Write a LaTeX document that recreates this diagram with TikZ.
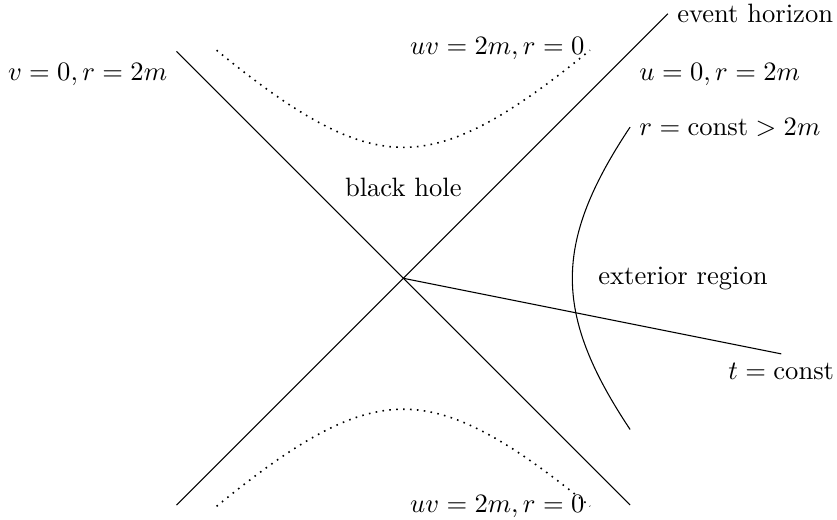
\documentclass[tikz,border=0pt]{standalone}
\begin{document}
\begin{tikzpicture}[
  axisline/.style={thin},
  horizonline/.style={thin},
  singularity/.style={dotted, line width=0.6pt},
  lbl/.style={inner sep=0.333em}
]
\useasboundingbox (-5.335,-3.197) rectangle (5.737,3.681);
% key points
\coordinate (O) at (0,0);
\coordinate (A1) at (-3,3);
\coordinate (A2) at (3,-3);
\coordinate (B1) at (-3,-3);
\coordinate (B2) at (3.5,3.5);
\coordinate (T) at (5,-1);
\coordinate (R1) at (3,2);
% null lines
\draw[axisline] (A1) -- (O) -- (A2);
\draw[horizonline] (B1) -- (O) -- (B2);
% t = const
\draw[axisline] (O) -- (T);
% r = const
\draw[thin] plot[domain=2:-2, samples=60, smooth] ({sqrt(\x*\x+5)}, \x);
% singularities
\draw[singularity] plot[domain=-2.47:2.47, samples=60, smooth] (\x, {sqrt(\x*\x+3)});
\draw[singularity] plot[domain=-2.47:2.47, samples=60, smooth] (\x, {-sqrt(\x*\x+3)});
% labels
\node[lbl, right] (eh) at (B2) {event horizon};
\node[lbl, right] (u0) at (3,2.7) {$u=0, r=2m$};
\node[lbl, left] (v0) at (-3,2.7) {$v=0, r=2m$};
\node[lbl, right] (rc) at (R1) {$r=\mathrm{const}>2m$};
\node[lbl] (bh) at (0,1.2) {black hole};
\node[lbl] (ext) at (3.7,0) {exterior region};
\node[lbl, below] (tc) at (T) {$t=\mathrm{const}$};
\node[lbl, left] (s1) at (2.52,3.04) {$uv=2m, r=0$};
\node[lbl, left] (s2) at (2.52,-3.02) {$uv=2m, r=0$};
\end{tikzpicture}
\end{document}
